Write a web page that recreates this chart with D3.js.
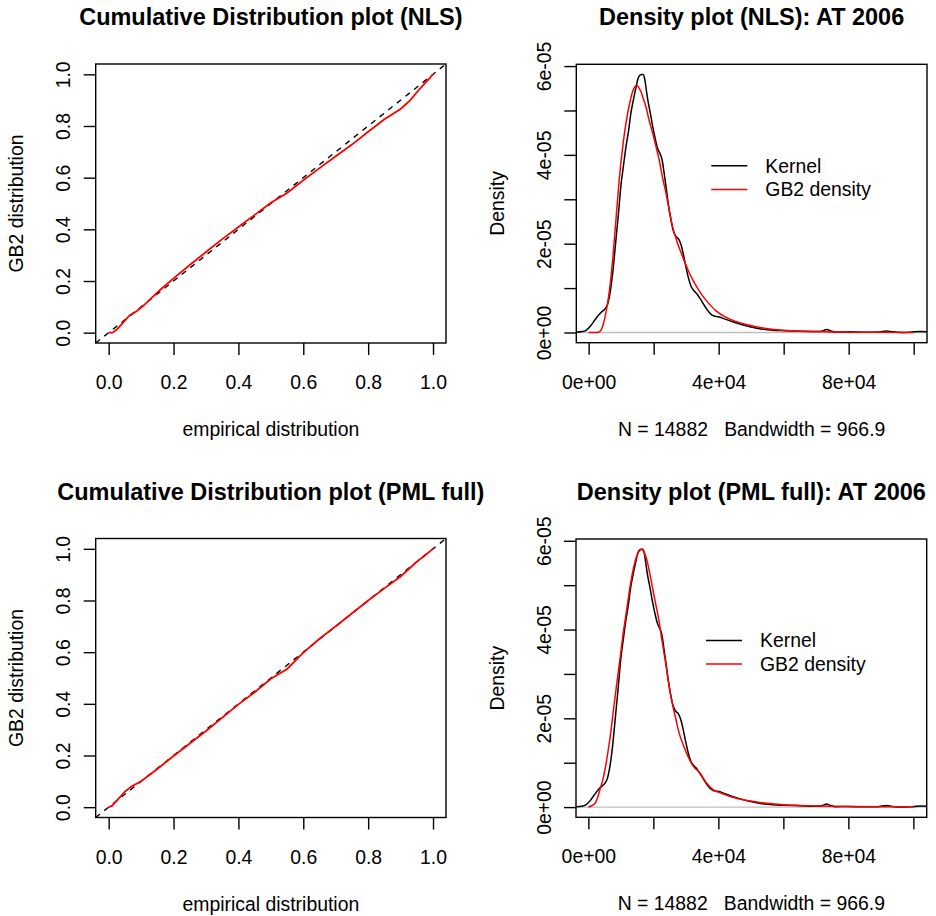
<!DOCTYPE html>
<html>
<head>
<meta charset="utf-8">
<script src="https://cdnjs.cloudflare.com/ajax/libs/d3/7.8.5/d3.min.js"></script>
<style>
body { margin: 0; background: #fff; }
svg text { font-family: "Liberation Sans", Arial, Helvetica, sans-serif; fill: #000; white-space: pre; }
</style>
</head>
<body>
<div id="chart"></div>
<script>

// ---- data ----

var cdfTicks = [0, 0.2, 0.4, 0.6, 0.8, 1.0]
var cdfTickLabels = ["0.0", "0.2", "0.4", "0.6", "0.8", "1.0"]

var densXTicks = [0, 20000, 40000, 60000, 80000, 100000]
var densXLabels = ["0e+00", "", "4e+04", "", "8e+04", ""]
// density values are stored in units of 1e-6
var densYTicks = [0, 10, 20, 30, 40, 50, 60]
var densYLabels = ["0e+00", "", "2e-05", "", "4e-05", "", "6e-05"]

// [empirical, GB2]
var cdfNLS = [
  [0.000, 0.000], [0.012, 0.000], [0.025, 0.012], [0.045, 0.040], [0.065, 0.068],
  [0.085, 0.082], [0.105, 0.102], [0.13, 0.132], [0.16, 0.167], [0.2, 0.210],
  [0.25, 0.262], [0.3, 0.312], [0.35, 0.362], [0.4, 0.409], [0.45, 0.456],
  [0.5, 0.503], [0.55, 0.541], [0.6, 0.590], [0.65, 0.637], [0.7, 0.683],
  [0.75, 0.728], [0.8, 0.778], [0.85, 0.826], [0.9, 0.866], [0.93, 0.900],
  [0.96, 0.945], [1.0, 1.0]
]

var cdfPML = [
  [0.0, 0.0], [0.01, 0.005], [0.03, 0.032], [0.05, 0.060], [0.07, 0.080],
  [0.1, 0.100], [0.15, 0.148], [0.2, 0.198], [0.3, 0.295], [0.4, 0.398],
  [0.45, 0.445], [0.5, 0.497], [0.55, 0.535], [0.6, 0.598], [0.65, 0.652],
  [0.7, 0.700], [0.8, 0.800], [0.85, 0.847], [0.9, 0.893], [0.95, 0.950], [1.0, 1.0]
]

// kernel density of the sample, same in both density plots
var kernel = [
  [-4000, 0.05], [-2000, 0.2], [-800, 0.5], [500, 1.4], [1500, 2.4], [2700, 3.6],
  [3800, 4.5], [5000, 5.3], [5800, 6.3], [6400, 8.2], [7000, 11], [7400, 13.4],
  [8400, 20.9], [9200, 27], [9900, 32.9], [10700, 37.5], [11500, 41.9], [12300, 45.5],
  [13000, 49.4], [13800, 52.5], [14600, 55.3], [15200, 57.2], [15600, 57.8],
  [16200, 58.1], [16700, 58.1], [17300, 56.9], [17700, 54.8], [18200, 52.4],
  [19000, 49.3], [19700, 46.4], [20500, 43.6], [21200, 41.5], [22000, 40.2],
  [22600, 38.9], [23200, 36], [23800, 32.9], [24500, 29], [25300, 25.4], [26000, 23],
  [26900, 21.6], [27700, 21], [28400, 19.8], [29200, 17.4], [29900, 14.9],
  [30700, 12.3], [31500, 10.4], [32400, 9.4], [33500, 8.5], [34500, 7.4],
  [35500, 6.2], [36500, 5.1], [37500, 4.2], [38300, 3.8], [39300, 3.6], [40200, 3.5],
  [42000, 3.0], [44300, 2.4], [47000, 1.8], [49600, 1.3], [53000, 0.8], [56800, 0.5],
  [60000, 0.4], [65000, 0.3], [70000, 0.2], [72000, 0.35], [73200, 0.7], [74500, 0.35],
  [76000, 0.1], [80000, 0.15], [85000, 0.05], [89000, 0.1], [91700, 0.35],
  [93500, 0.15], [96000, 0.0], [99000, 0.05], [102000, 0.25], [105000, 0.15]
]

var gb2NLS = [
  [0, 0], [2500, 0], [3300, 0.1], [4300, 1.4], [5300, 4.4], [6300, 8.9], [7400, 16.4],
  [8400, 25.4], [9400, 34.4], [10500, 41.9], [11200, 45.8], [12000, 49.4],
  [12800, 52.2], [13500, 54.2], [14200, 55.3], [14800, 55.7], [15400, 55.2],
  [16100, 54.2], [16800, 52.7], [17600, 50.9], [18600, 47.8], [19700, 44.9],
  [20700, 41.9], [21700, 38.9], [22700, 35], [23800, 31.4], [24800, 27.5],
  [25800, 23.9], [27300, 20.2], [28900, 17.1], [30500, 14.2], [32000, 11.9],
  [33500, 10], [35000, 8.3], [37000, 6.5], [39300, 4.8], [42000, 3.5], [45300, 2.5],
  [48500, 1.8], [51500, 1.3], [55000, 0.85], [60000, 0.5], [65000, 0.3],
  [70000, 0.2], [75000, 0.12], [80000, 0.08], [90000, 0.04], [100000, 0.02]
]

var gb2PML = [
  [0, 0], [1000, 0.3], [2100, 0.9], [3000, 2.5], [3700, 4.3], [4500, 6.3],
  [5200, 8.8], [6000, 12.3], [6800, 16.3], [7500, 20.5], [8300, 25.3], [9100, 29.8],
  [9900, 34.3], [10600, 38.5], [11400, 42.5], [12200, 46.5], [12900, 50.0],
  [13700, 53.2], [14500, 55.7], [15400, 57.4], [16400, 58.1], [17200, 57.4],
  [18000, 55.7], [18800, 53], [19600, 50], [20600, 46.2], [21600, 42.5],
  [22600, 37.8], [23700, 32.8], [24700, 28], [25700, 23.8], [26800, 20.2],
  [27800, 17], [29300, 13.8], [30900, 11], [32500, 9], [34200, 7.8], [36000, 5.8],
  [38200, 4.0], [41000, 3.1], [44400, 2.2], [48000, 1.6], [51400, 1.2],
  [55000, 0.85], [60000, 0.55], [65000, 0.38], [70000, 0.27], [80000, 0.15],
  [90000, 0.09], [100000, 0.06]
]

var legendLabels = ["Kernel", "GB2 density"]
var legendColors = ["#000000", "#ff0000"]

// ---- layout ----
var W = 936, H = 916
var fs = 19.4

var panels = [
  { type: "cdf", title: "Cumulative Distribution plot (NLS)", data: cdfNLS,
    left: 95.7, top: 64, right: 446, bottom: 343 },
  { type: "dens", title: "Density plot (NLS): AT 2006", gb2: gb2NLS,
    left: 576.3, top: 64.3, right: 927, bottom: 342.7, legX: 135 },
  { type: "cdf", title: "Cumulative Distribution plot (PML full)", data: cdfPML,
    left: 95.7, top: 538.5, right: 446, bottom: 817.5 },
  { type: "dens", title: "Density plot (PML full): AT 2006", gb2: gb2PML,
    left: 576, top: 539, right: 926.7, bottom: 817.3, legX: 130 }
]

var svg = d3.select("#chart").append("svg")
  .attr("width", W)
  .attr("height", H)

svg.append("rect").attr("width", W).attr("height", H).attr("fill", "#fff")

panels.forEach(function(p, pi) {

  var x, y, xt, xl, yt, yl, xlab, ylab
  if (p.type == "cdf") {
    x = d3.scaleLinear().domain([-0.04, 1.04]).range([p.left, p.right])
    y = d3.scaleLinear().domain([-0.04, 1.04]).range([p.bottom, p.top])
    xt = cdfTicks; xl = cdfTickLabels; yt = cdfTicks; yl = cdfTickLabels
    xlab = "empirical distribution"; ylab = "GB2 distribution"
  } else {
    x = d3.scaleLinear().domain([-3800, 104100]).range([p.left, p.right])
    y = d3.scaleLinear().domain([-2.3, 60.4]).range([p.bottom, p.top])
    xt = densXTicks; xl = densXLabels; yt = densYTicks; yl = densYLabels
    xlab = "N = 14882   Bandwidth = 966.9"; ylab = "Density"
  }

  var g = svg.append("g")

  g.append("clipPath").attr("id", "clip" + pi)
    .append("rect")
    .attr("x", p.left).attr("y", p.top)
    .attr("width", p.right - p.left).attr("height", p.bottom - p.top)

  var plot = g.append("g").attr("clip-path", "url(#clip" + pi + ")")

  if (p.type == "cdf") {
    // 45 degree reference
    plot.append("line")
      .attr("x1", x(-0.04)).attr("y1", y(-0.04))
      .attr("x2", x(1.04)).attr("y2", y(1.04))
      .attr("stroke", "#000").attr("stroke-width", 1.4)
      .attr("stroke-dasharray", "5.5,5.5")

    plot.append("path")
      .datum(p.data)
      .attr("fill", "none")
      .attr("stroke", "#ff0000")
      .attr("stroke-width", 1.8)
      .attr("d", d3.line().x(function(d){ return x(d[0]) }).y(function(d){ return y(d[1]) }))
  } else {
    plot.append("line")
      .attr("x1", p.left).attr("x2", p.right)
      .attr("y1", y(0)).attr("y2", y(0))
      .attr("stroke", "#bebebe").attr("stroke-width", 1.3)

    var line = d3.line()
      .curve(d3.curveMonotoneX)
      .x(function(d){ return x(d[0]) })
      .y(function(d){ return y(d[1]) })

    plot.append("path").datum(kernel)
      .attr("fill", "none").attr("stroke", "#000").attr("stroke-width", 1.5)
      .attr("d", line)
    plot.append("path").datum(p.gb2)
      .attr("fill", "none").attr("stroke", "#ff0000").attr("stroke-width", 1.5)
      .attr("d", line)

    // legend (no box)
    legendLabels.forEach(function(lab, i) {
      var ly = p.top + 101.5 + i * 23.6
      g.append("line")
        .attr("x1", p.left + p.legX).attr("x2", p.left + p.legX + 36)
        .attr("y1", ly).attr("y2", ly)
        .attr("stroke", legendColors[i]).attr("stroke-width", 1.5)
      g.append("text")
        .attr("x", p.left + p.legX + 54).attr("y", ly)
        .attr("dy", "0.36em")
        .style("font-size", fs + "px")
        .text(lab)
    })
  }

  // box
  g.append("rect")
    .attr("x", p.left).attr("y", p.top)
    .attr("width", p.right - p.left).attr("height", p.bottom - p.top)
    .attr("fill", "none").attr("stroke", "#000").attr("stroke-width", 1.4)

  // x axis
  var xAxis = d3.axisBottom(x).tickValues(xt).tickSize(12).tickSizeOuter(0)
    .tickFormat(function(d, i){ return xl[i] })
  var gx = g.append("g").attr("transform", "translate(0," + p.bottom + ")").call(xAxis)
  gx.select(".domain").remove()
  gx.selectAll(".tick line").attr("stroke", "#000").attr("stroke-width", 1.4)
  gx.selectAll(".tick text")
    .attr("y", 46).attr("dy", null)
    .style("font-size", fs + "px")
    .style("font-family", "\"Liberation Sans\", Arial, Helvetica, sans-serif")
    .attr("fill", "#000")

  // y axis
  var yAxis = d3.axisLeft(y).tickValues(yt).tickSize(12).tickSizeOuter(0)
    .tickFormat(function(d, i){ return yl[i] })
  var gy = g.append("g").attr("transform", "translate(" + p.left + ",0)").call(yAxis)
  gy.select(".domain").remove()
  gy.selectAll(".tick line").attr("stroke", "#000").attr("stroke-width", 1.4)
  gy.selectAll(".tick text")
    .attr("x", null).attr("dy", null)
    .attr("text-anchor", "middle")
    .attr("transform", "translate(-25.5,0) rotate(-90)")
    .style("font-size", fs + "px")
    .style("font-family", "\"Liberation Sans\", Arial, Helvetica, sans-serif")
    .attr("fill", "#000")

  var cx = (p.left + p.right) / 2, cy = (p.top + p.bottom) / 2

  g.append("text")
    .attr("x", cx).attr("y", p.bottom + 93)
    .attr("text-anchor", "middle")
    .attr("xml:space", "preserve")
    .style("font-size", fs + "px")
    .text(xlab)

  g.append("text")
    .attr("transform", "translate(" + (p.left - 72.5) + "," + cy + ") rotate(-90)")
    .attr("text-anchor", "middle")
    .style("font-size", fs + "px")
    .text(ylab)

  g.append("text")
    .attr("x", cx).attr("y", p.top - 39)
    .attr("text-anchor", "middle")
    .style("font-size", (fs * 1.21) + "px")
    .style("font-weight", "bold")
    .text(p.title)
})

</script>
</body>
</html>
